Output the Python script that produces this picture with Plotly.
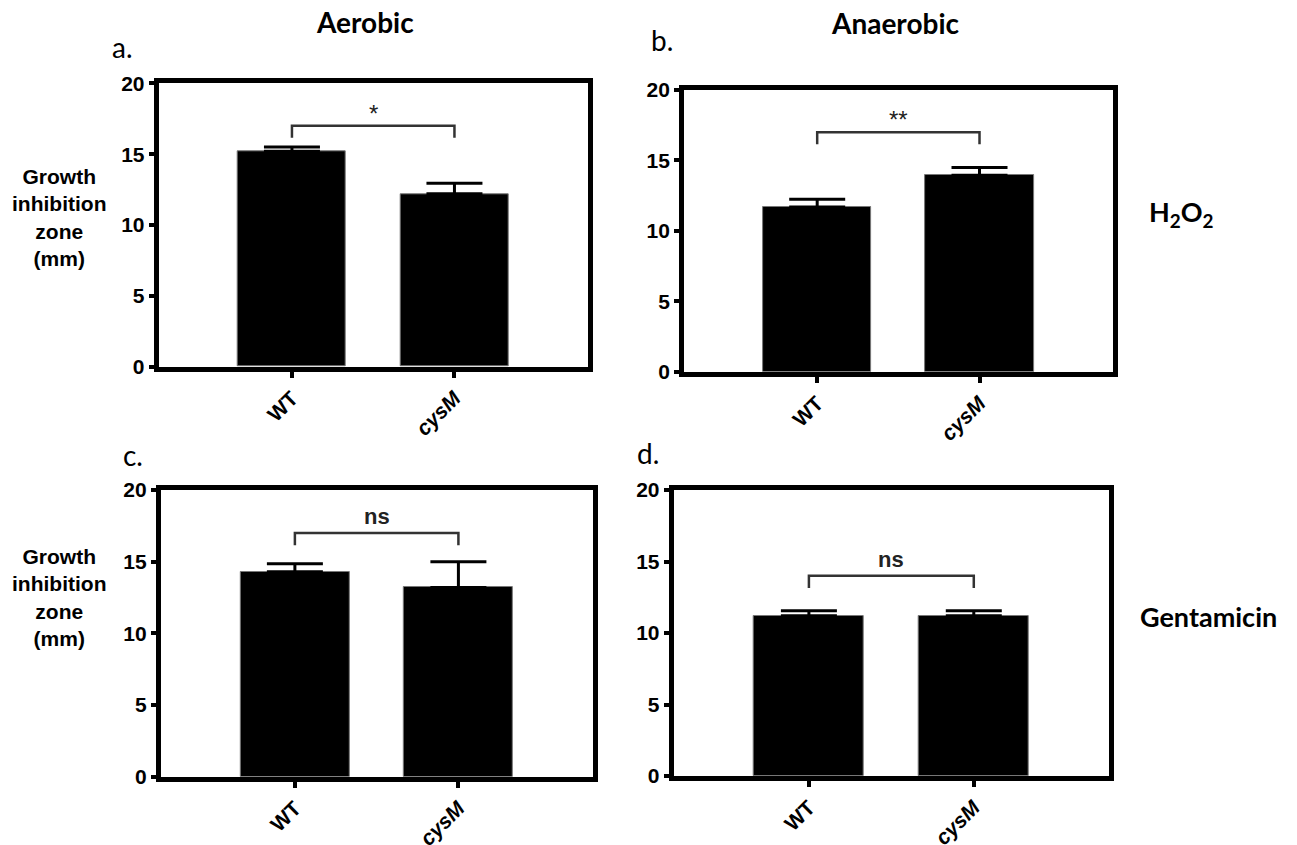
import plotly.graph_objects as go

W, H = 1297, 845

# Strains on the x axis
groups = ["WT", "cysM"]
group_labels = ["WT", "<i>cysM</i>"]

# Mean growth inhibition zone (mm) and SEM, one list per panel
aerobic_h2o2 = [15.2, 12.2]
aerobic_h2o2_sem = [0.3, 0.75]
anaerobic_h2o2 = [11.7, 13.95]
anaerobic_h2o2_sem = [0.55, 0.55]
aerobic_gent = [14.3, 13.2]
aerobic_gent_sem = [0.55, 1.8]
anaerobic_gent = [11.2, 11.2]
anaerobic_gent_sem = [0.35, 0.35]

# Significance brackets
bracket_level = [17.0, 17.0, 17.0, 14.0]
bracket_drop = 0.85
significance = ["*", "**", "ns", "ns"]

panel_letters = ["a.", "b.", "c.", "d."]
y_ticks = [0, 5, 10, 15, 20]

panels = [
    (aerobic_h2o2, aerobic_h2o2_sem),
    (anaerobic_h2o2, anaerobic_h2o2_sem),
    (aerobic_gent, aerobic_gent_sem),
    (anaerobic_gent, anaerobic_gent_sem),
]

# plot-area boxes in pixels: (left, right, top, bottom)
boxes = [
    (158.7, 587.7, 83.3, 366.7),
    (684.1, 1112.6, 90.0, 371.7),
    (160.8, 592.5, 490.0, 776.7),
    (673.7, 1109.0, 490.0, 776.0),
]

ARIAL = "Liberation Sans, Arial, Helvetica, sans-serif"
CALIBRI = "Lato, Open Sans, sans-serif"

fig = go.Figure()
layout = dict(
    width=W, height=H,
    margin=dict(l=0, r=0, t=0, b=0, pad=0, autoexpand=False),
    paper_bgcolor="white", plot_bgcolor="white",
    showlegend=False,
    bargap=0,
)


def paper_text(text, px, py, font):
    return dict(x=px / W, y=1 - py / H, xref="paper", yref="paper",
                xanchor="center", yanchor="middle", text=text,
                showarrow=False, align="center", font=font)


annotations = []
for i, ((vals, sem), (l, r, t, b)) in enumerate(zip(panels, boxes)):
    n = "" if i == 0 else str(i + 1)
    xa, ya = "x" + n, "y" + n
    fig.add_trace(go.Bar(
        x=[0, 1], y=vals, width=0.667,
        marker=dict(color="black", line=dict(color="#777777", width=1)),
        error_y=dict(type="data", array=sem, arrayminus=[0] * len(sem),
                     symmetric=False, color="black", thickness=3, width=28),
        xaxis=xa, yaxis=ya, hoverinfo="skip",
    ))
    lvl = bracket_level[i]
    fig.add_trace(go.Scatter(
        x=[0, 0, 1, 1], y=[lvl - bracket_drop, lvl, lvl, lvl - bracket_drop],
        mode="lines", line=dict(color="#333333", width=2.5),
        xaxis=xa, yaxis=ya, hoverinfo="skip",
    ))
    sig = significance[i]
    is_star = sig.startswith("*")
    annotations.append(dict(
        x=0.5, y=lvl, xref=xa, yref=ya, text=sig, showarrow=False,
        xanchor="center", yanchor="bottom", yshift=(-3 if is_star else 2),
        font=dict(family=ARIAL, size=(24 if is_star else 22), color="#222222",
                  weight=("normal" if is_star else "bold")),
    ))

    axis_common = dict(
        showgrid=False, zeroline=False, showline=True, linecolor="black",
        linewidth=5, mirror=True, ticks="outside", tickcolor="black",
        tickwidth=4, automargin=False,
    )
    layout["xaxis" + n] = dict(
        axis_common,
        domain=[l / W, r / W], anchor=ya, range=[-0.82, 1.82],
        tickvals=[0, 1], ticktext=group_labels, tickangle=-45, ticklen=6,
        tickfont=dict(family=ARIAL, size=21, color="black", weight="bold"),
    )
    layout["yaxis" + n] = dict(
        axis_common,
        domain=[1 - b / H, 1 - t / H], anchor=xa, range=[0, 20],
        tickvals=y_ticks, ticklen=5,
        tickfont=dict(family=ARIAL, size=21, color="black", weight="bold"),
    )

# Panel letters
for letter, (px, py) in zip(panel_letters, [(122, 47), (662, 40), (133, 455), (648, 453)]):
    annotations.append(paper_text(letter, px, py,
                                  dict(family=CALIBRI, size=28, color="black")))

# Column titles
for txt, px, py in [("Aerobic", 365, 22), ("Anaerobic", 895, 23)]:
    annotations.append(paper_text(txt, px, py,
                                  dict(family=CALIBRI, size=28, color="black", weight="bold")))

# Row labels
for txt, px, py in [("H<sub>2</sub>O<sub>2</sub>", 1181, 213), ("Gentamicin", 1208, 616)]:
    annotations.append(paper_text(txt, px, py,
                                  dict(family=CALIBRI, size=27, color="black", weight="bold")))

# Y-axis titles
for py in [217, 597]:
    annotations.append(paper_text("Growth<br>inhibition<br>zone<br>(mm)", 59, py,
                                  dict(family=ARIAL, size=21, color="black", weight="bold")))

layout["annotations"] = annotations
fig.update_layout(**layout)
fig.write_html("out.html")
